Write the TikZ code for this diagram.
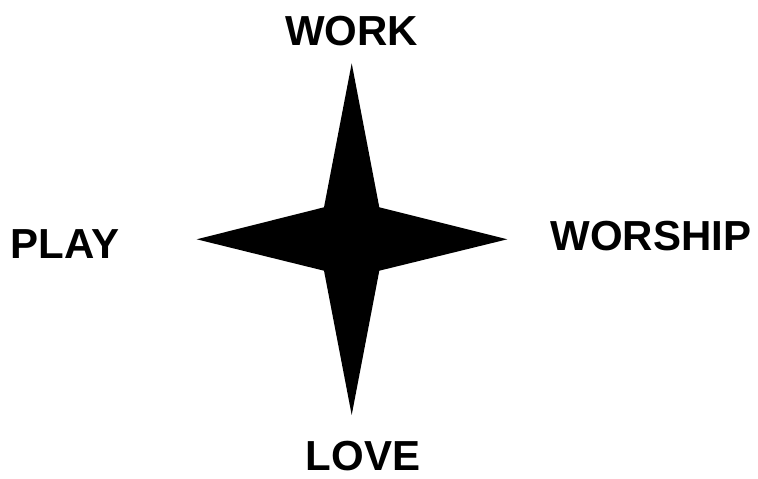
\documentclass[tikz,border=0pt]{standalone}
\usepackage{fontspec}
\setmainfont{Liberation Sans}
\begin{document}
\begin{tikzpicture}[x=1pt,y=-1pt,
  lbl/.style={font=\fontsize{42}{42}\selectfont\bfseries, inner sep=0pt, anchor=base, text=black}]
\useasboundingbox (0,0) rectangle (758,479);
\fill[white] (0,0) rectangle (758,479);
\coordinate (top) at (351.7,63.3);
\coordinate (ur) at (379.3,207.3);
\coordinate (right) at (507.3,239.3);
\coordinate (lr) at (379.3,270.7);
\coordinate (bottom) at (351.7,415);
\coordinate (ll) at (324,270.7);
\coordinate (left) at (196.7,239.3);
\coordinate (ul) at (324,207.3);
\fill[black] (top) -- (ur) -- (right) -- (lr) -- (bottom) -- (ll) -- (left) -- (ul) -- cycle;
\node[lbl] (work) at (351.5,45) {WORK};
\node[lbl] (play) at (65,258) {PLAY};
\node[lbl] (worship) at (651,250) {WORSHIP};
\node[lbl] (love) at (363,470) {LOVE};
\end{tikzpicture}
\end{document}
